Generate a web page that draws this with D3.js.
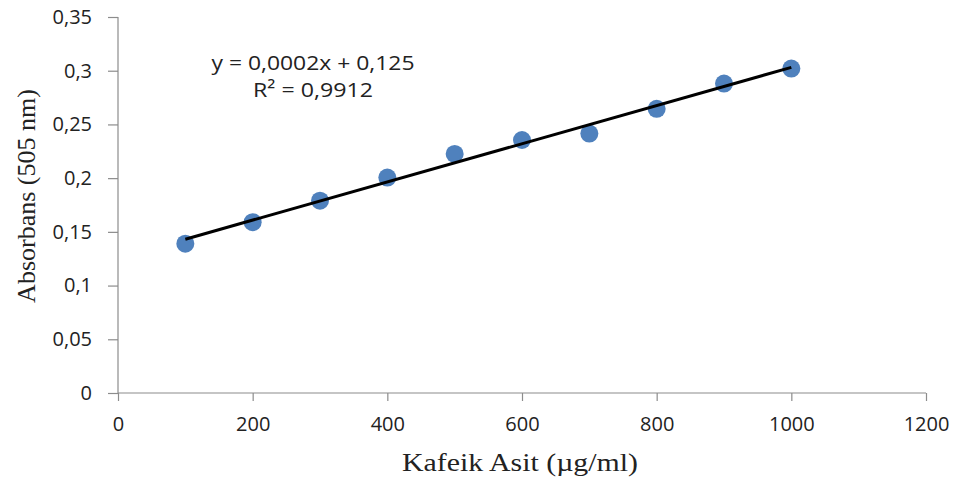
<!DOCTYPE html>
<html><head><meta charset="utf-8">
<script src="https://cdn.jsdelivr.net/npm/d3@7"></script>
<style>body{margin:0;background:#fff}</style>
</head><body>
<svg id="c" width="958" height="480"></svg>
<script>
const xValues = [100, 200, 300, 400, 500, 600, 700, 800, 900, 1000];
const yValues = [0.139, 0.159, 0.179, 0.2005, 0.2225, 0.2355, 0.2415, 0.2645, 0.288, 0.302];
const xTicks = [0, 200, 400, 600, 800, 1000, 1200];
const yTicks = [0, 0.05, 0.1, 0.15, 0.2, 0.25, 0.3, 0.35];
const eqLines = ["y = 0,0002x + 0,125", "R² = 0,9912"];

const svg = d3.select("#c");
const x = d3.scaleLinear().domain([0, 1200]).range([118, 926]);
const y = d3.scaleLinear().domain([0, 0.35]).range([393, 17]);
const fmt = d => String(d).replace(".", ",");
const tickFont = "'Open Sans', 'Liberation Sans', sans-serif";
const serif = "'Liberation Serif', 'Times New Roman', serif";

const gx = svg.append("g").attr("transform", "translate(0,393)")
  .call(d3.axisBottom(x).tickValues(xTicks).tickSize(8).tickPadding(16).tickFormat(fmt));
const gy = svg.append("g").attr("transform", "translate(118,0)")
  .call(d3.axisLeft(y).tickValues(yTicks).tickSize(10).tickPadding(16).tickFormat(fmt));
[gx, gy].forEach(g => {
  g.selectAll("path,line").attr("stroke", "#8c8c8c").attr("stroke-width", 1.2);
  g.selectAll("text").attr("font-family", tickFont).attr("font-size", 20).attr("fill", "#222");
});
gx.select(".domain").attr("d", "M118,0H926");
gy.select(".domain").attr("d", "M0,17V393");

// regression line
const n = xValues.length;
const mx = d3.mean(xValues), my = d3.mean(yValues);
let sxy = 0, sxx = 0;
for (let i = 0; i < n; i++) { sxy += (xValues[i]-mx)*(yValues[i]-my); sxx += (xValues[i]-mx)**2; }
const slope = sxy / sxx, icpt = my - slope * mx;
const x0 = d3.min(xValues), x1 = d3.max(xValues);

svg.append("g").selectAll("circle").data(xValues).join("circle")
  .attr("cx", (d) => x(d)).attr("cy", (d, i) => y(yValues[i]))
  .attr("r", 9).attr("fill", "#4f81bd");

svg.append("line")
  .attr("x1", x(x0)).attr("y1", y(slope*x0+icpt))
  .attr("x2", x(x1)).attr("y2", y(slope*x1+icpt))
  .attr("stroke", "#000").attr("stroke-width", 3);

const eqWidths = [203, 120];
svg.append("g").selectAll("text").data(eqLines).join("text")
  .attr("x", 313).attr("y", (d, i) => 70 + i * 27)
  .attr("text-anchor", "middle").attr("font-family", tickFont)
  .attr("font-size", 20).attr("fill", "#222")
  .attr("textLength", (d, i) => eqWidths[i]).attr("lengthAdjust", "spacingAndGlyphs")
  .text(d => d);

svg.append("text").attr("x", 520).attr("y", 471).attr("text-anchor", "middle")
  .attr("font-family", serif).attr("font-size", 26)
  .attr("textLength", 236).attr("lengthAdjust", "spacingAndGlyphs")
  .attr("fill", "#222").text("Kafeik Asit (µg/ml)");
svg.append("text").attr("transform", "translate(35,196) rotate(-90)").attr("text-anchor", "middle")
  .attr("font-family", serif).attr("font-size", 26)
  .attr("fill", "#222").text("Absorbans (505 nm)");
</script>
</body></html>
